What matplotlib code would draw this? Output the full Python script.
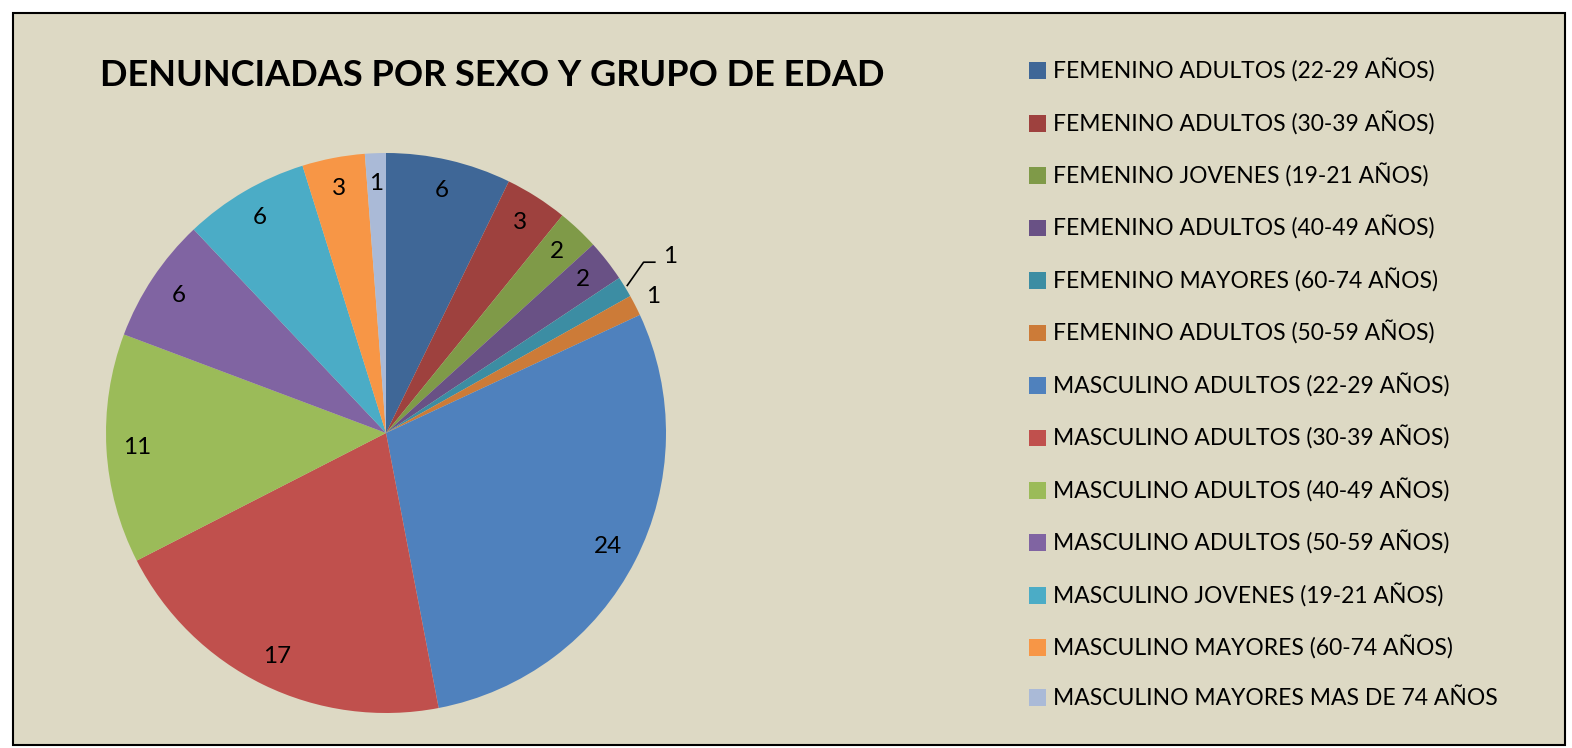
import matplotlib
matplotlib.use('Agg')
import matplotlib.pyplot as plt
from matplotlib.patches import Rectangle
import numpy as np

plt.rcParams['font.family'] = ['Lato', 'DejaVu Sans']

# datos
categorias = [
    'FEMENINO ADULTOS (22-29 AÑOS)',
    'FEMENINO ADULTOS (30-39 AÑOS)',
    'FEMENINO JOVENES (19-21 AÑOS)',
    'FEMENINO ADULTOS (40-49 AÑOS)',
    'FEMENINO MAYORES (60-74 AÑOS)',
    'FEMENINO ADULTOS (50-59 AÑOS)',
    'MASCULINO ADULTOS (22-29 AÑOS)',
    'MASCULINO ADULTOS (30-39 AÑOS)',
    'MASCULINO ADULTOS (40-49 AÑOS)',
    'MASCULINO ADULTOS (50-59 AÑOS)',
    'MASCULINO JOVENES (19-21 AÑOS)',
    'MASCULINO MAYORES (60-74 AÑOS)',
    'MASCULINO MAYORES MAS DE 74 AÑOS',
]
valores = [6, 3, 2, 2, 1, 1, 24, 17, 11, 6, 6, 3, 1]
colores = ['#3F6797', '#9E413E', '#7F9A48', '#695185', '#3C8DA3', '#CC7B38',
           '#4F81BD', '#C0504D', '#9BBB59', '#8064A2', '#4BACC6', '#F79646', '#AABAD7']

fondo = '#DDD9C4'

fig = plt.figure(figsize=(15.72, 7.48), dpi=100)
fig.patch.set_facecolor('white')

# marco del grafico
fig.patches.append(Rectangle((13 / 1572, 3 / 748), 1552 / 1572, 732 / 748,
                             transform=fig.transFigure, facecolor=fondo,
                             edgecolor='black', linewidth=1.5, zorder=-10))

ax = fig.add_axes([106 / 1572, 35 / 748, 560 / 1572, 560 / 748])
ax.set_facecolor('none')
ax.set_zorder(1)
wedges, _ = ax.pie(valores, colors=colores, startangle=90, counterclock=False,
                   radius=1.0, wedgeprops=dict(linewidth=0))
ax.set_xlim(-1, 1)
ax.set_ylim(-1, 1)

# etiquetas de valores
for i, (w, v) in enumerate(zip(wedges, valores)):
    ang = np.deg2rad((w.theta1 + w.theta2) / 2)
    if i == 4:
        x0, y0 = np.cos(ang), np.sin(ang)
        ax.plot([x0 * 1.01, 0.92, 0.96], [y0 * 1.01, 0.61, 0.61],
                color='black', lw=1.2, clip_on=False)
        ax.text(0.99, 0.63, str(v), fontsize=17.5, ha='left', va='center')
        continue
    d = 1.07 if i == 5 else 0.89
    ax.text(d * np.cos(ang), d * np.sin(ang), str(v), fontsize=17.5,
            ha='center', va='center')

fig.text(492 / 1572, 1 - 75 / 748, 'DENUNCIADAS POR SEXO Y GRUPO DE EDAD',
         fontsize=26, fontweight='bold', ha='center', va='center')

fig.legend(wedges, categorias, loc='upper left',
           bbox_to_anchor=(1008 / 1572, 1 - 38 / 748), frameon=False,
           fontsize=16.5, handlelength=0.75, handleheight=0.75, handletextpad=0.3,
           labelspacing=1.24)

fig.savefig('out.png', dpi=100, facecolor=fig.get_facecolor())
